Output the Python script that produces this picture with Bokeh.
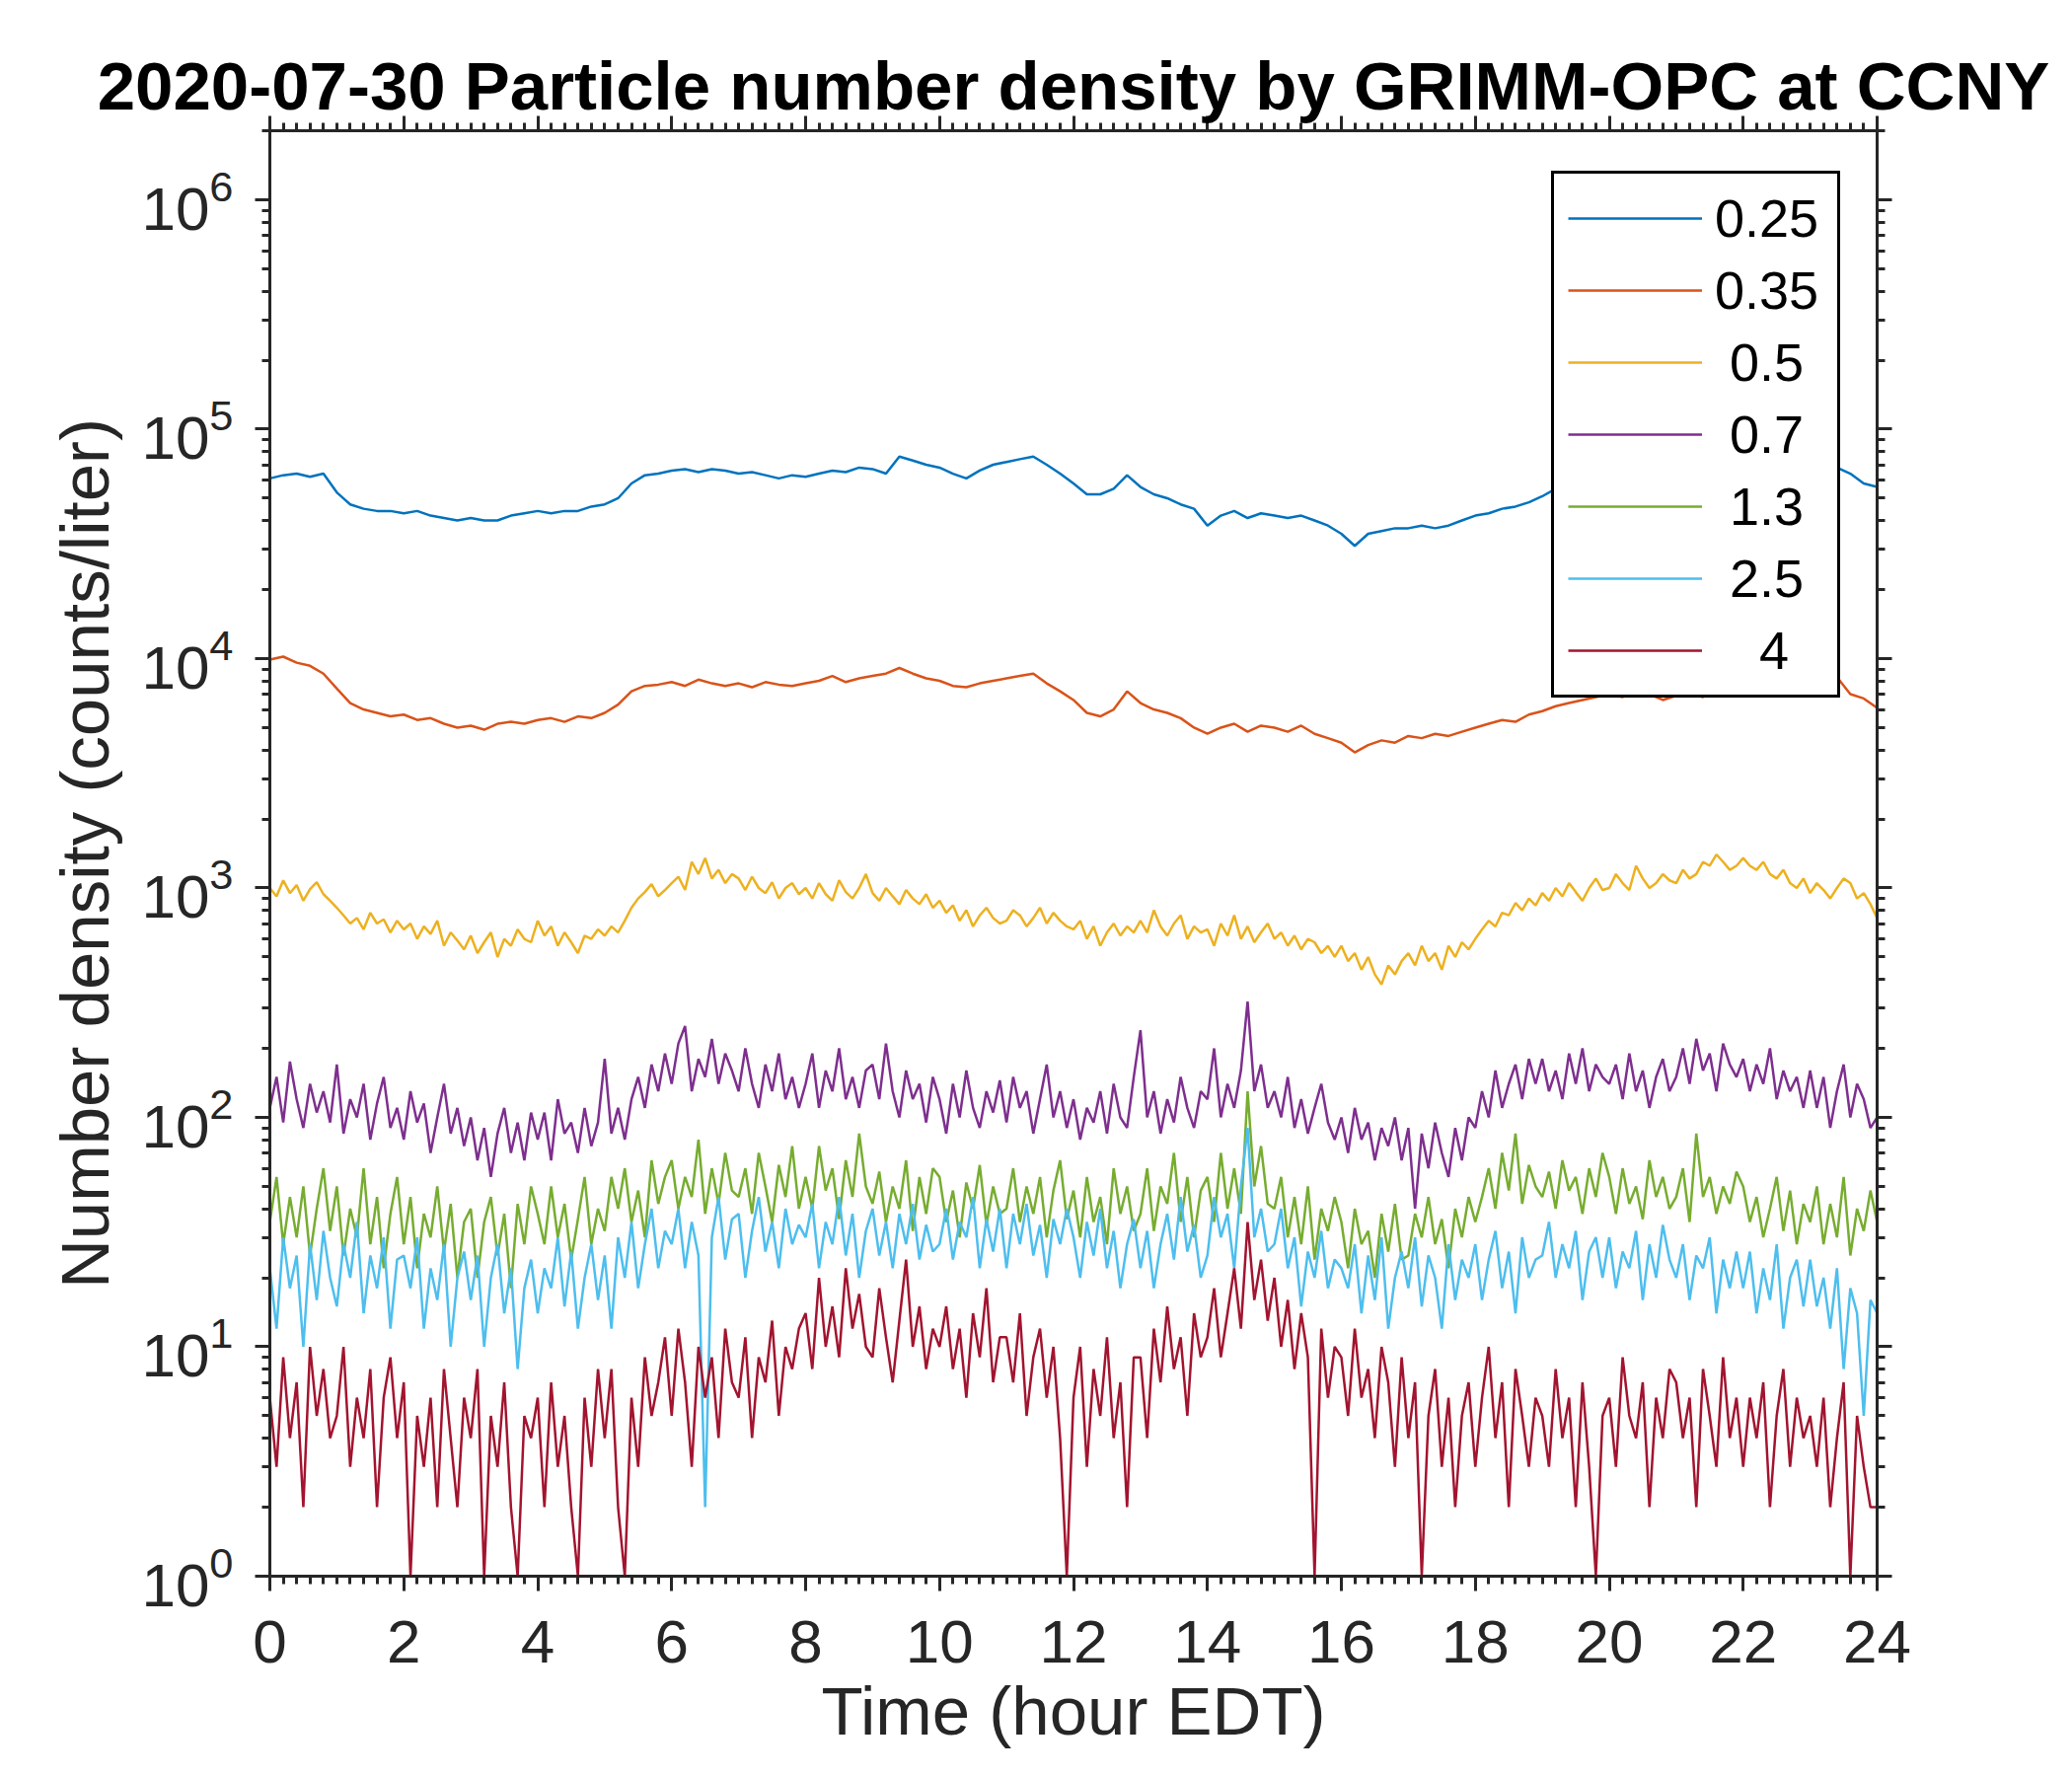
from bokeh.plotting import figure
from bokeh.models import (Range1d, FixedTicker, LinearAxis, LogAxis, Legend, LegendItem,
                          CustomJSTickFormatter)
from bokeh.embed import file_html
from bokeh.resources import INLINE

# time of day in hours: 12 min steps for the two smooth channels, 6 min for the rest
hours = [i / 5 for i in range(121)]
hours_fine = [i / 10 for i in range(241)]

sizes = ["0.25", "0.35", "\u00a00.5", "\u00a00.7", "\u00a01.3", "\u00a02.5", "\u00a0\u00a0\u00a04"]
colors = ["#0072BD", "#D95319", "#EDB120", "#7E2F8E", "#77AC30", "#4DBEEE", "#A2142F"]

# counts/liter per size channel (um), one row per hour
n025 = [61e3, 63e3, 64e3, 62e3, 64e3,
        53e3, 47e3, 45e3, 44e3, 44e3,
        43e3, 44e3, 42e3, 41e3, 40e3,
        41e3, 40e3, 40e3, 42e3, 43e3,
        44e3, 43e3, 44e3, 44e3, 46e3,
        47e3, 50e3, 58e3, 63e3, 64e3,
        66e3, 67e3, 65e3, 67e3, 66e3,
        64e3, 65e3, 63e3, 61e3, 63e3,
        62e3, 64e3, 66e3, 65e3, 68e3,
        67e3, 64e3, 76e3, 73e3, 70e3,
        68e3, 64e3, 61e3, 66e3, 70e3,
        72e3, 74e3, 76e3, 70e3, 64e3,
        58e3, 52e3, 52e3, 55e3, 63e3,
        56e3, 52e3, 50e3, 47e3, 45e3,
        38e3, 42e3, 44e3, 41e3, 43e3,
        42e3, 41e3, 42e3, 40e3, 38e3,
        35e3, 31e3, 35e3, 36e3, 37e3,
        37e3, 38e3, 37e3, 38e3, 40e3,
        42e3, 43e3, 45e3, 46e3, 48e3,
        51e3, 55e3, 57e3, 58e3, 57e3,
        59e3, 58e3, 60e3, 61e3, 60e3,
        62e3, 61e3, 63e3, 62e3, 64e3,
        63e3, 65e3, 64e3, 66e3, 65e3,
        66e3, 63e3, 68e3, 64e3, 58e3,
        56e3]
n035 = [9.9e3, 10.2e3, 9.6e3, 9.3e3, 8.6e3,
        7.4e3, 6.4e3, 6.0e3, 5.8e3, 5.6e3,
        5.7e3, 5.4e3, 5.5e3, 5.2e3, 5.0e3,
        5.1e3, 4.9e3, 5.2e3, 5.3e3, 5.2e3,
        5.4e3, 5.5e3, 5.3e3, 5.6e3, 5.5e3,
        5.8e3, 6.3e3, 7.2e3, 7.6e3, 7.7e3,
        7.9e3, 7.6e3, 8.1e3, 7.8e3, 7.6e3,
        7.8e3, 7.5e3, 7.9e3, 7.7e3, 7.6e3,
        7.8e3, 8.0e3, 8.4e3, 7.9e3, 8.2e3,
        8.4e3, 8.6e3, 9.1e3, 8.6e3, 8.2e3,
        8.0e3, 7.6e3, 7.5e3, 7.8e3, 8.0e3,
        8.2e3, 8.4e3, 8.6e3, 7.8e3, 7.2e3,
        6.6e3, 5.8e3, 5.6e3, 6.0e3, 7.2e3,
        6.4e3, 6.0e3, 5.8e3, 5.5e3, 5.0e3,
        4.7e3, 5.0e3, 5.2e3, 4.8e3, 5.1e3,
        5.0e3, 4.8e3, 5.1e3, 4.7e3, 4.5e3,
        4.3e3, 3.9e3, 4.2e3, 4.4e3, 4.3e3,
        4.6e3, 4.5e3, 4.7e3, 4.6e3, 4.8e3,
        5.0e3, 5.2e3, 5.4e3, 5.3e3, 5.7e3,
        5.9e3, 6.2e3, 6.4e3, 6.6e3, 6.8e3,
        7.0e3, 6.8e3, 7.2e3, 7.0e3, 6.6e3,
        6.9e3, 7.1e3, 6.8e3, 7.2e3, 7.4e3,
        7.3e3, 7.6e3, 7.4e3, 7.5e3, 7.3e3,
        7.2e3, 7.0e3, 8.3e3, 7.0e3, 6.7e3,
        6.1e3]
n05 = [1000, 920, 1080, 950, 1030, 880, 990, 1060, 940, 880,
       820, 760, 700, 740, 660, 780, 700, 730, 640, 720,
       660, 700, 600, 680, 630, 720, 560, 640, 590, 540,
       620, 520, 580, 640, 500, 600, 560, 660, 600, 580,
       720, 620, 680, 560, 640, 580, 520, 620, 600, 660,
       620, 680, 640, 720, 820, 900, 960, 1040, 920, 980,
       1050, 1120, 980, 1300, 1150, 1350, 1100, 1200, 1050, 1150,
       1100, 980, 1120, 1000, 950, 1060, 900, 1000, 1050, 940,
       1000, 900, 1050, 940, 880, 1080, 960, 900, 1000, 1150,
       950, 880, 1000, 920, 850, 980, 900, 850, 940, 820,
       880, 780, 840, 720, 800, 680, 760, 820, 740, 700,
       720, 800, 760, 680, 740, 820, 700, 780, 720, 680,
       660, 720, 600, 680, 560, 640, 700, 620, 680, 640,
       720, 640, 800, 680, 620, 700, 760, 600, 680, 640,
       660, 560, 700, 620, 760, 600, 680, 580, 640, 700,
       600, 640, 560, 620, 540, 600, 580, 520, 560, 500,
       560, 480, 520, 440, 500, 420, 380, 460, 420, 480,
       520, 460, 560, 480, 520, 440, 560, 500, 580, 540,
       600, 660, 720, 680, 780, 760, 860, 800, 900, 840,
       950, 880, 1000, 920, 1050, 960, 880, 1000, 1100, 980,
       1000, 1150, 1050, 980, 1250, 1100, 1000, 1050, 1150, 1080,
       1050, 1200, 1100, 1150, 1300, 1250, 1400, 1300, 1200, 1250,
       1350, 1250, 1200, 1300, 1150, 1100, 1200, 1050, 1000, 1100,
       950, 1050, 980, 900, 1000, 1100, 1050, 900, 950, 850,
       740]
n07 = [110, 150, 95, 175, 120, 90, 140, 105, 130, 95,
       170, 85, 120, 100, 140, 80, 115, 150, 90, 110,
       80, 130, 95, 115, 70, 100, 140, 85, 110, 75,
       100, 65, 90, 55, 85, 110, 70, 95, 65, 105,
       80, 105, 65, 120, 85, 95, 70, 110, 75, 95,
       180, 85, 110, 80, 120, 150, 110, 170, 130, 190,
       140, 210, 250, 130, 180, 150, 220, 140, 190, 160,
       130, 200, 140, 110, 170, 130, 190, 120, 150, 110,
       140, 190, 110, 160, 130, 200, 120, 150, 110, 160,
       170, 120, 210, 130, 100, 160, 120, 140, 95, 150,
       120, 85, 140, 100, 160, 110, 90, 130, 105, 145,
       95, 150, 110, 130, 85, 120, 170, 100, 130, 90,
       120, 80, 110, 95, 130, 85, 140, 100, 90, 150,
       240, 100, 130, 85, 120, 95, 150, 110, 90, 130,
       120, 200, 100, 140, 110, 160, 320, 130, 170, 110,
       130, 100, 150, 90, 120, 85, 110, 140, 95, 80,
       100, 70, 110, 80, 95, 65, 90, 75, 100, 65,
       90, 40, 85, 60, 95, 70, 55, 90, 65, 100,
       90, 130, 100, 160, 110, 140, 170, 120, 180, 140,
       180, 130, 160, 120, 190, 140, 200, 130, 170, 150,
       140, 170, 120, 190, 130, 160, 110, 150, 180, 130,
       150, 200, 140, 220, 160, 190, 130, 210, 170, 150,
       180, 130, 170, 140, 200, 120, 160, 130, 150, 110,
       160, 110, 150, 90, 130, 170, 100, 140, 120, 90,
       100]
n13 = [35, 55, 28, 45, 30, 50, 25, 40, 60, 32,
       50, 25, 40, 30, 60, 28, 45, 22, 38, 55,
       28, 45, 22, 38, 30, 50, 26, 42, 20, 35,
       40, 20, 35, 45, 25, 38, 18, 42, 28, 50,
       38, 28, 50, 30, 42, 24, 36, 55, 28, 40,
       32, 55, 40, 60, 35, 48, 30, 65, 42, 55,
       65, 40, 55, 45, 80, 38, 60, 42, 70, 48,
       45, 60, 38, 70, 50, 35, 62, 45, 75, 40,
       55, 40, 75, 48, 60, 36, 65, 45, 85, 50,
       42, 58, 35, 50, 40, 65, 32, 55, 38, 60,
       55, 35, 48, 30, 52, 40, 62, 34, 50, 38,
       40, 60, 35, 50, 38, 55, 30, 48, 65, 36,
       48, 30, 55, 35, 45, 28, 60, 38, 50, 32,
       38, 60, 32, 50, 42, 70, 35, 55, 30, 48,
       55, 35, 70, 40, 60, 38, 130, 50, 75, 42,
       40, 55, 30, 45, 28, 50, 24, 40, 32, 45,
       35, 22, 40, 28, 32, 20, 38, 26, 42, 24,
       25, 38, 30, 45, 28, 36, 22, 40, 30, 45,
       35, 45, 60, 40, 70, 48, 85, 42, 62, 50,
       45, 58, 40, 65, 48, 55, 38, 60, 45, 70,
       55, 38, 60, 42, 50, 36, 65, 45, 55, 40,
       45, 60, 35, 85, 45, 55, 38, 50, 42, 58,
       50, 35, 45, 30, 40, 55, 32, 48, 28, 42,
       35, 50, 28, 42, 30, 55, 25, 40, 32, 48,
       35]
n25 = [22, 12, 30, 18, 25, 10, 28, 16, 32, 20,
       15, 28, 20, 35, 14, 25, 18, 30, 12, 24,
       25, 18, 30, 12, 22, 16, 28, 10, 20, 26,
       16, 25, 10, 20, 28, 14, 22, 8, 18, 24,
       14, 22, 18, 30, 15, 26, 12, 20, 28, 16,
       25, 12, 30, 20, 35, 18, 28, 40, 22, 32,
       28, 40, 22, 35, 25, 2, 30, 45, 24, 36,
       38, 20, 32, 45, 26, 35, 22, 40, 28, 34,
       30, 42, 22, 35, 28, 45, 25, 38, 20, 32,
       40, 25, 35, 22, 38, 28, 42, 24, 34, 26,
       28, 40, 24, 35, 30, 45, 22, 36, 26, 40,
       22, 38, 28, 42, 25, 34, 20, 36, 28, 40,
       30, 20, 35, 25, 40, 22, 32, 18, 28, 36,
       22, 32, 18, 28, 38, 24, 45, 26, 34, 20,
       25, 45, 30, 38, 22, 50, 90, 30, 40, 26,
       28, 40, 22, 30, 15, 26, 20, 32, 18, 24,
       22, 18, 28, 14, 25, 16, 30, 12, 20, 26,
       18, 30, 15, 25, 20, 12, 28, 16, 24, 20,
       28, 16, 24, 32, 18, 26, 14, 30, 20, 24,
       25, 35, 20, 28, 22, 32, 16, 26, 30, 20,
       30, 18, 26, 22, 32, 16, 28, 20, 34, 24,
       20, 28, 16, 25, 22, 30, 14, 24, 18, 26,
       18, 26, 14, 22, 16, 28, 12, 20, 24, 15,
       24, 15, 20, 12, 22, 8, 18, 14, 5, 16,
       14]
n4 = [6, 3, 9, 4, 7, 2, 10, 5, 8, 4,
      5, 10, 3, 6, 4, 8, 2, 6, 9, 4,
      7, 1, 5, 3, 6, 2, 8, 4, 2, 6,
      4, 8, 1, 5, 3, 7, 2, 1, 5, 4,
      6, 2, 7, 3, 5, 2, 1, 6, 3, 8,
      4, 8, 2, 1, 6, 3, 9, 5, 7, 11,
      5, 12, 7, 3, 10, 6, 9, 4, 12, 7,
      6, 11, 4, 9, 7, 13, 5, 10, 8, 12,
      14, 8, 20, 10, 15, 9, 22, 12, 17, 10,
      9, 18, 11, 7, 13, 24, 10, 15, 8, 12,
      10, 15, 8, 12, 6, 14, 9, 18, 7, 11,
      11, 7, 14, 5, 9, 12, 6, 10, 4, 1,
      6, 10, 3, 8, 5, 11, 4, 7, 2, 9,
      9, 4, 12, 7, 15, 8, 11, 5, 14, 9,
      11, 18, 9, 14, 22, 12, 35, 16, 24, 13,
      20, 10, 16, 8, 14, 9, 1, 12, 6, 10,
      9, 5, 12, 6, 8, 4, 10, 7, 3, 9,
      4, 7, 1, 5, 8, 3, 6, 2, 5, 7,
      3, 6, 10, 4, 7, 2, 8, 5, 3, 6,
      5, 3, 8, 4, 6, 2, 7, 3, 1, 5,
      6, 3, 9, 5, 4, 7, 2, 6, 4, 8,
      7, 4, 6, 2, 8, 5, 3, 9, 4, 6,
      3, 6, 4, 7, 2, 5, 8, 3, 6, 4,
      5, 3, 6, 2, 4, 7, 1, 5, 3, 2,
      2]

series = [n025, n035, n05, n07, n13, n25, n4]
times = [hours, hours, hours_fine, hours_fine, hours_fine, hours_fine, hours_fine]

x_ticks = list(range(0, 25, 2))
x_minor = [i / 5 for i in range(121)]
y_ticks = [10 ** k for k in range(7)]
y_minor = [m * 10 ** k for k in range(7) for m in range(2, 10)]

ink = "#262626"
font = "Liberation Sans"

p = figure(width=2084, height=1784, y_axis_type="log",
           x_range=Range1d(0, 24), y_range=Range1d(1, 2e6),
           output_backend="svg", toolbar_location=None,
           min_border_left=273, min_border_right=182,
           min_border_top=132, min_border_bottom=187,
           title="2020-07-30 Particle number density by GRIMM-OPC at CCNY")
p.xgrid.visible = False
p.ygrid.visible = False
p.outline_line_color = None
p.background_fill_color = "white"
p.border_fill_color = "white"

p.title.text_font = font
p.title.text_font_size = "69px"
p.title.text_font_style = "bold"
p.title.text_color = "black"
p.title.align = "center"
p.title.standoff = -16


def style_axis(ax):
    ax.axis_line_color = ink
    ax.axis_line_width = 3
    ax.major_tick_line_color = ink
    ax.major_tick_line_width = 3
    ax.major_tick_in = 0
    ax.major_tick_out = 15
    ax.minor_tick_line_color = ink
    ax.minor_tick_line_width = 3
    ax.minor_tick_in = 0
    ax.minor_tick_out = 8
    ax.major_label_text_font = font
    ax.major_label_text_font_size = "62px"
    ax.major_label_text_color = ink
    ax.axis_label_text_font = font
    ax.axis_label_text_font_size = "69px"
    ax.axis_label_text_font_style = "normal"
    ax.axis_label_text_color = ink


xax = p.below[0]
xax.ticker = FixedTicker(ticks=x_ticks, minor_ticks=x_minor)
style_axis(xax)
xax.axis_label = "Time (hour EDT)"
xax.major_label_standoff = 30
xax.axis_label_standoff = 8

yax = p.left[0]
yax.ticker = FixedTicker(ticks=y_ticks, minor_ticks=y_minor)
style_axis(yax)
yax.axis_label = "Number density (counts/liter)"
yax.major_label_standoff = 22
yax.axis_label_standoff = 15

blank = CustomJSTickFormatter(code="return ''")

top = LinearAxis(ticker=FixedTicker(ticks=x_ticks, minor_ticks=x_minor), formatter=blank)
style_axis(top)
top.major_label_standoff = 0
top.major_label_text_font_size = "1px"
p.add_layout(top, "above")

right = LogAxis(ticker=FixedTicker(ticks=y_ticks, minor_ticks=y_minor), formatter=blank)
style_axis(right)
right.major_label_standoff = 0
right.major_label_text_font_size = "1px"
p.add_layout(right, "right")

items = []
for t, vals, col, lab in zip(times, series, colors, sizes):
    r = p.line(t, vals, line_color=col, line_width=2.5)
    items.append(LegendItem(label=lab, renderers=[r]))

legend = Legend(items=items, location=(1299, 890))
legend.margin = 0
legend.padding = 14
legend.spacing = 11
legend.glyph_width = 136
legend.glyph_height = 60
legend.label_height = 60
legend.label_width = 110
legend.label_standoff = 13
legend.label_text_font = font
legend.label_text_font_size = "54px"
legend.label_text_color = "black"
legend.border_line_color = "black"
legend.border_line_alpha = 1.0
legend.border_line_width = 3
legend.background_fill_color = "white"
legend.background_fill_alpha = 1.0
p.add_layout(legend)

open("out.html", "w").write(file_html(p, INLINE))
